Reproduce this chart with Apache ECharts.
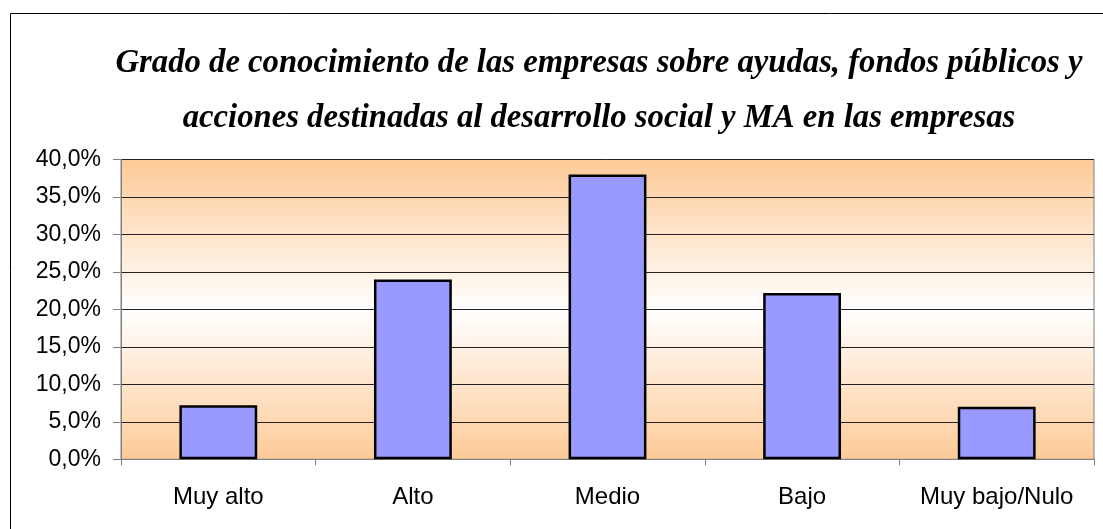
<!DOCTYPE html>
<html>
<head>
<meta charset="utf-8">
<script src="https://cdn.jsdelivr.net/npm/echarts@6/dist/echarts.min.js"></script>
<style>
  html, body { margin: 0; padding: 0; background: #fff; }
  #chart_main { width: 1103px; height: 529px; }
</style>
</head>
<body>
<div id="chart_main"></div>
<script>
  // datos
  var categorias = ['Muy alto', 'Alto', 'Medio', 'Bajo', 'Muy bajo/Nulo'];
  var porcentajes = [7.2, 24.0, 38.0, 22.2, 7.0];
  var titulo = 'Grado de conocimiento de las empresas sobre ayudas, fondos públicos y\nacciones destinadas al desarrollo social y MA en las empresas';

  var myChart = echarts.init(document.getElementById('chart_main'));
  var option = {
    backgroundColor: '#fff',
    animation: false,
    title: {
      text: titulo,
      left: 594,
      textAlign: 'center',
      top: 31,
      textStyle: {
        fontFamily: 'Liberation Serif',
        fontStyle: 'italic',
        fontWeight: 'bold',
        fontSize: 32.7,
        lineHeight: 55,
        color: '#000'
      }
    },
    graphic: [
      {
        type: 'rect',
        left: 8,
        top: 11,
        shape: { width: 1200, height: 600 },
        style: { fill: 'none', stroke: '#000', lineWidth: 1 },
        z: -1
      }
    ],
    grid: {
      left: 121,
      right: 9,
      top: 159.5,
      bottom: 69.7,
      show: true,
      borderColor: '#808080',
      borderWidth: 1,
      backgroundColor: new echarts.graphic.LinearGradient(0, 0, 0, 1, [
        { offset: 0, color: '#FDCA97' },
        { offset: 0.5, color: '#FFFFFF' },
        { offset: 1, color: '#FDCA97' }
      ])
    },
    xAxis: {
      type: 'category',
      data: categorias,
      axisLine: { lineStyle: { color: '#808080', width: 1 } },
      axisTick: { show: true, length: 6, lineStyle: { color: '#808080' } },
      axisLabel: {
        interval: 0,
        margin: 26,
        fontFamily: 'Liberation Sans',
        fontSize: 24,
        color: '#000'
      }
    },
    yAxis: {
      type: 'value',
      min: 0,
      max: 40,
      interval: 5,
      axisLine: { show: true, lineStyle: { color: '#808080', width: 1 } },
      axisTick: { show: true, length: 8, lineStyle: { color: '#808080' } },
      axisLabel: {
        margin: 20,
        fontFamily: 'Liberation Sans',
        fontSize: 23,
        color: '#000',
        formatter: function (v) { return v.toFixed(1).replace('.', ',') + '%'; }
      },
      splitLine: {
        show: true,
        lineStyle: { color: '#222', width: 1 }
      }
    },
    series: [
      {
        type: 'bar',
        data: porcentajes,
        barWidth: '40%',
        itemStyle: {
          color: '#9999FF',
          borderColor: '#000',
          borderWidth: 2.5
        }
      }
    ]
  };
  myChart.setOption(option);
</script>
</body>
</html>
